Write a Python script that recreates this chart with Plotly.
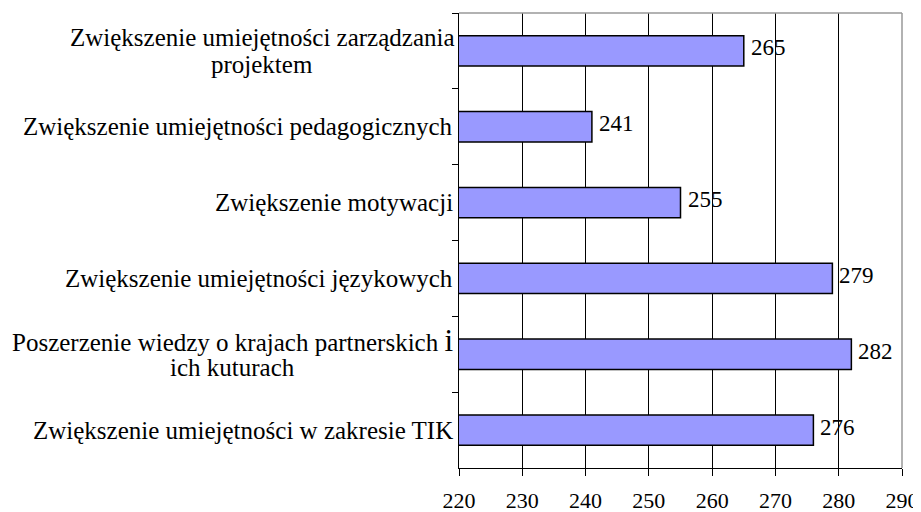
import plotly.graph_objects as go

categories = [
    "Zwiększenie umiejętności zarządzania<br>projektem",
    "Zwiększenie umiejętności pedagogicznych",
    "Zwiększenie motywacji",
    "Zwiększenie umiejętności językowych",
    "Poszerzenie wiedzy o krajach partnerskich <span style=\"font-size:31px\">i</span><br>ich kuturach",
    "Zwiększenie umiejętności w zakresie TIK",
]
values = [265, 241, 255, 279, 282, 276]
x_ticks = [220, 230, 240, 250, 260, 270, 280, 290]

FONT = "Liberation Serif, Times New Roman, serif"
FS = 25       # category labels
FS_VAL = 23   # value labels
FS_TICK = 22  # x tick labels
LINE = 27
# approximate pixel width of the widest line of each multi-line label,
# used only to centre the lines under each other
BLOCK_W = {0: 386, 4: 446}

# the page body has an 8px default margin, so the figure is shrunk by it
W, H = 921 - 8, 512 - 8

fig = go.Figure()
fig.add_trace(go.Bar(
    y=categories,
    x=values,
    orientation="h",
    marker=dict(color="#9999FF", line=dict(color="black", width=1.5)),
    width=0.4,
    hoverinfo="x+y",
))

# category labels (centred multi-line, like the original)
for k, c in enumerate(categories):
    lines = c.split("<br>")
    n = len(lines)
    for i, ln in enumerate(lines):
        if n == 1:
            xa, xs = "right", -4
        else:
            xa, xs = "center", -4 - BLOCK_W[k] / 2
        fig.add_annotation(
            xref="paper", yref="y", x=0, y=c, text=ln,
            xanchor=xa, yanchor="middle", align="center",
            xshift=xs, yshift=((n - 1) / 2 - i) * LINE,
            showarrow=False,
            font=dict(family=FONT, size=FS, color="black"),
        )

# value labels
for c, v in zip(categories, values):
    fig.add_annotation(
        xref="x", yref="y", x=v, y=c, text=str(v),
        xanchor="left", yanchor="middle", xshift=5, yshift=3,
        showarrow=False,
        font=dict(family=FONT, size=FS_VAL, color="black"),
    )

fig.update_layout(
    width=W, height=H,
    margin=dict(l=451, r=19, t=5, b=44),
    paper_bgcolor="white", plot_bgcolor="white",
    showlegend=False,
    font=dict(family=FONT, size=FS, color="black"),
    xaxis=dict(
        range=[220, 290], tickvals=x_ticks, ticktext=[str(t) for t in x_ticks],
        showgrid=True, gridcolor="black", gridwidth=1,
        showline=True, linecolor="black", linewidth=1,
        ticks="outside", ticklen=7, tickcolor="black",
        ticklabelstandoff=6,
        zeroline=False, automargin=False,
        tickfont=dict(family=FONT, size=FS_TICK, color="black"),
    ),
    yaxis=dict(
        type="category", categoryorder="array", categoryarray=categories,
        autorange="reversed",
        showticklabels=False,
        showgrid=False, tickson="boundaries",
        ticks="outside", ticklen=6, tickcolor="black",
        showline=True, linecolor="black", linewidth=1,
        automargin=False,
    ),
    shapes=[
        dict(type="line", xref="paper", yref="paper", x0=0, x1=1, y0=1, y1=1,
             line=dict(color="#999999", width=1.5), layer="above"),
        dict(type="line", xref="paper", yref="paper", x0=1, x1=1, y0=0, y1=1,
             line=dict(color="#999999", width=1.5), layer="above"),
    ],
)

fig.write_html("out.html")
